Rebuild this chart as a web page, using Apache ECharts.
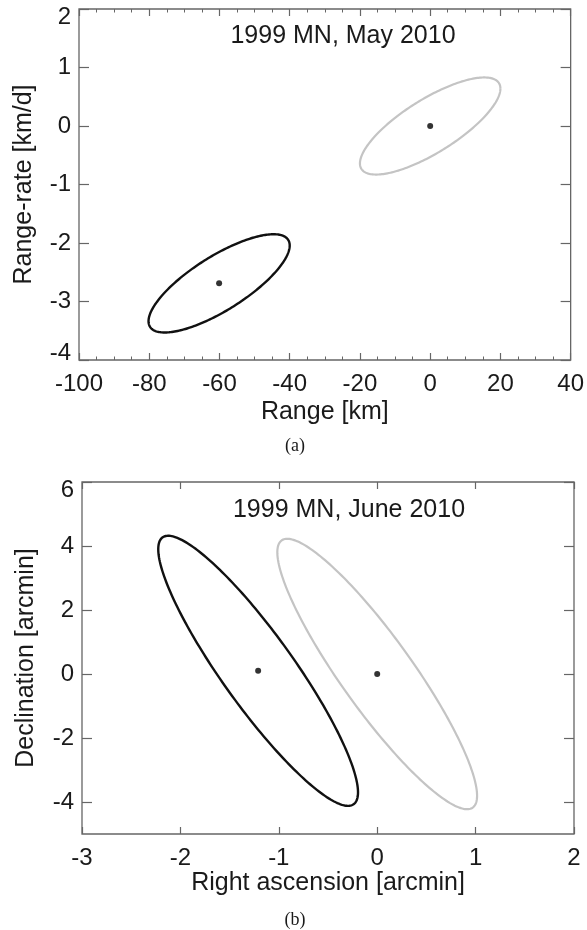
<!DOCTYPE html>
<html>
<head>
<meta charset="utf-8">
<script src="https://cdn.jsdelivr.net/npm/echarts@6/dist/echarts.min.js"></script>
<style>
html,body{margin:0;padding:0;background:#fff;}
#chart{width:587px;height:930px;}
</style>
</head>
<body>
<div id="chart"></div>
<script>
// ---------- Panel (a): 1999 MN, May 2010 ----------
const aTitle = '1999 MN, May 2010';
const aXName = 'Range [km]';
const aYName = 'Range-rate [km/d]';
const aXRange = [-100, 40];
const aYRange = [-4, 2];
// ellipse rows: [centre x, centre y, x half-extent, y half-extent, correlation]
const aEllipseBlack = [[-60.1, -2.69, 20.1, 0.84, 0.77]];
const aEllipseGray = [[0, 0, 20, 0.83, 0.77]];
const aDots = [[-60.1, -2.69], [0, 0]];

// ---------- Panel (b): 1999 MN, June 2010 ----------
const bTitle = '1999 MN, June 2010';
const bXName = 'Right ascension [arcmin]';
const bYName = 'Declination [arcmin]';
const bXRange = [-3, 2];
const bYRange = [-5, 6];
const bYTicks = [-4, -2, 0, 2, 4, 6];
const bEllipseBlack = [[-1.21, 0.1, 1.015, 4.22, -0.9]];
const bEllipseGray = [[0, 0, 1.015, 4.225, -0.9]];
const bDots = [[-1.21, 0.1], [0, 0]];

const panelTags = ['(a)', '(b)'];

const SANS = "'Liberation Sans', Arial, Helvetica, sans-serif";
const SERIF = "'Liberation Serif', 'Times New Roman', serif";
const FRAME = '#666666';
const TXT = '#1a1a1a';

function ellipseRenderer(color, width) {
  return function (params, api) {
    const cx = api.value(0), cy = api.value(1), sx = api.value(2), sy = api.value(3), r = api.value(4);
    const q = Math.sqrt(1 - r * r);
    const pts = [];
    const N = 240;
    for (let i = 0; i <= N; i++) {
      const t = 2 * Math.PI * i / N;
      pts.push(api.coord([cx + sx * Math.cos(t), cy + sy * (r * Math.cos(t) + q * Math.sin(t))]));
    }
    return {
      type: 'polyline',
      shape: { points: pts },
      style: { fill: null, stroke: color, lineWidth: width }
    };
  };
}

const tickStyle = { color: FRAME, width: 1.2 };
const labelBase = { fontSize: 24, color: TXT, fontFamily: SANS };
const nameBase = { fontSize: 25, color: TXT, fontFamily: SANS };

function xAxisDef(gridIndex, range, interval, pos, withLabels, name, nameGap, minor) {
  return {
    type: 'value', gridIndex: gridIndex, position: pos,
    min: range[0], max: range[1], interval: interval,
    axisLine: { show: false, onZero: false },
    axisTick: { show: true, inside: true, length: 7, lineStyle: tickStyle },
    minorTick: { show: !!minor, splitNumber: 4, length: 3.5, lineStyle: { color: FRAME, width: 1 } },
    splitLine: { show: false },
    minorSplitLine: { show: false },
    axisLabel: Object.assign({ show: withLabels, margin: 12 }, labelBase),
    name: withLabels ? name : '',
    nameLocation: 'middle',
    nameGap: nameGap,
    nameTextStyle: nameBase
  };
}

const chart = echarts.init(document.getElementById('chart'), null, { renderer: 'canvas' });

const option = {
  backgroundColor: '#fff',
  animation: false,
  grid: [
    { left: 79, top: 9, width: 493, height: 351, show: true, borderColor: FRAME, borderWidth: 1.3, backgroundColor: 'transparent' },
    { left: 82, top: 482, width: 492, height: 352, show: true, borderColor: FRAME, borderWidth: 1.3, backgroundColor: 'transparent' }
  ],
  xAxis: [
    xAxisDef(0, aXRange, 20, 'bottom', true, aXName, 40, true),
    xAxisDef(0, aXRange, 20, 'top', false, '', 0, true),
    xAxisDef(1, bXRange, 1, 'bottom', true, bXName, 36, false),
    xAxisDef(1, bXRange, 1, 'top', false, '', 0, false)
  ],
  yAxis: [
    {
      type: 'value', gridIndex: 0, position: 'left',
      min: aYRange[0], max: aYRange[1], interval: 1,
      axisLine: { show: false, onZero: false },
      axisTick: { show: true, inside: true, length: 10, lineStyle: tickStyle },
      splitLine: { show: false },
      axisLabel: Object.assign({
        margin: 8,
        formatter: function (v) {
          if (v === aYRange[1]) return '{dn|' + v + '}';
          if (v === aYRange[0]) return '{up|' + v + '}';
          return String(v);
        },
        rich: {
          dn: Object.assign({ padding: [16, 0, 0, 0] }, labelBase),
          up: Object.assign({ padding: [0, 0, 14, 0] }, labelBase)
        }
      }, labelBase),
      name: aYName, nameLocation: 'middle', nameGap: 42, nameTextStyle: nameBase
    },
    {
      type: 'value', gridIndex: 0, position: 'right',
      min: aYRange[0], max: aYRange[1], interval: 1,
      axisLine: { show: false, onZero: false },
      axisTick: { show: true, inside: true, length: 10, lineStyle: tickStyle },
      splitLine: { show: false },
      axisLabel: { show: false }
    },
    {
      type: 'value', gridIndex: 1, position: 'left',
      min: bYRange[0], max: bYRange[1],
      axisLine: { show: false, onZero: false },
      axisTick: { show: true, inside: true, length: 10, lineStyle: tickStyle, customValues: bYTicks },
      splitLine: { show: false },
      axisLabel: Object.assign({
        margin: 8,
        customValues: bYTicks,
        formatter: function (v) {
          if (v === bYRange[1]) return '{dn|' + v + '}';
          return String(v);
        },
        rich: {
          dn: Object.assign({ padding: [16, 0, 0, 0] }, labelBase)
        }
      }, labelBase),
      name: bYName, nameLocation: 'middle', nameGap: 43, nameTextStyle: nameBase
    },
    {
      type: 'value', gridIndex: 1, position: 'right',
      min: bYRange[0], max: bYRange[1],
      axisLine: { show: false, onZero: false },
      axisTick: { show: true, inside: true, length: 10, lineStyle: tickStyle, customValues: bYTicks },
      splitLine: { show: false },
      axisLabel: { show: false }
    }
  ],
  graphic: [
    { type: 'text', x: 343, y: 36, style: { text: aTitle, align: 'center', verticalAlign: 'middle', font: '25px ' + SANS, fill: TXT } },
    { type: 'text', x: 349, y: 510, style: { text: bTitle, align: 'center', verticalAlign: 'middle', font: '25px ' + SANS, fill: TXT } },
    { type: 'text', x: 295, y: 446, style: { text: panelTags[0], align: 'center', verticalAlign: 'middle', font: '18px ' + SERIF, fill: TXT } },
    { type: 'text', x: 295, y: 920, style: { text: panelTags[1], align: 'center', verticalAlign: 'middle', font: '18px ' + SERIF, fill: TXT } }
  ],
  series: [
    { type: 'custom', xAxisIndex: 0, yAxisIndex: 0, data: aEllipseGray, encode: { x: 0, y: 1 }, renderItem: ellipseRenderer('#c4c4c4', 2.2), silent: true },
    { type: 'custom', xAxisIndex: 0, yAxisIndex: 0, data: aEllipseBlack, encode: { x: 0, y: 1 }, renderItem: ellipseRenderer('#111111', 2.4), silent: true },
    { type: 'scatter', xAxisIndex: 0, yAxisIndex: 0, data: aDots, symbolSize: 6, itemStyle: { color: '#000' }, silent: true },
    { type: 'custom', xAxisIndex: 2, yAxisIndex: 2, data: bEllipseGray, encode: { x: 0, y: 1 }, renderItem: ellipseRenderer('#c4c4c4', 2.2), silent: true },
    { type: 'custom', xAxisIndex: 2, yAxisIndex: 2, data: bEllipseBlack, encode: { x: 0, y: 1 }, renderItem: ellipseRenderer('#111111', 2.4), silent: true },
    { type: 'scatter', xAxisIndex: 2, yAxisIndex: 2, data: bDots, symbolSize: 6, itemStyle: { color: '#000' }, silent: true }
  ]
};
chart.setOption(option);
</script>
</body>
</html>
